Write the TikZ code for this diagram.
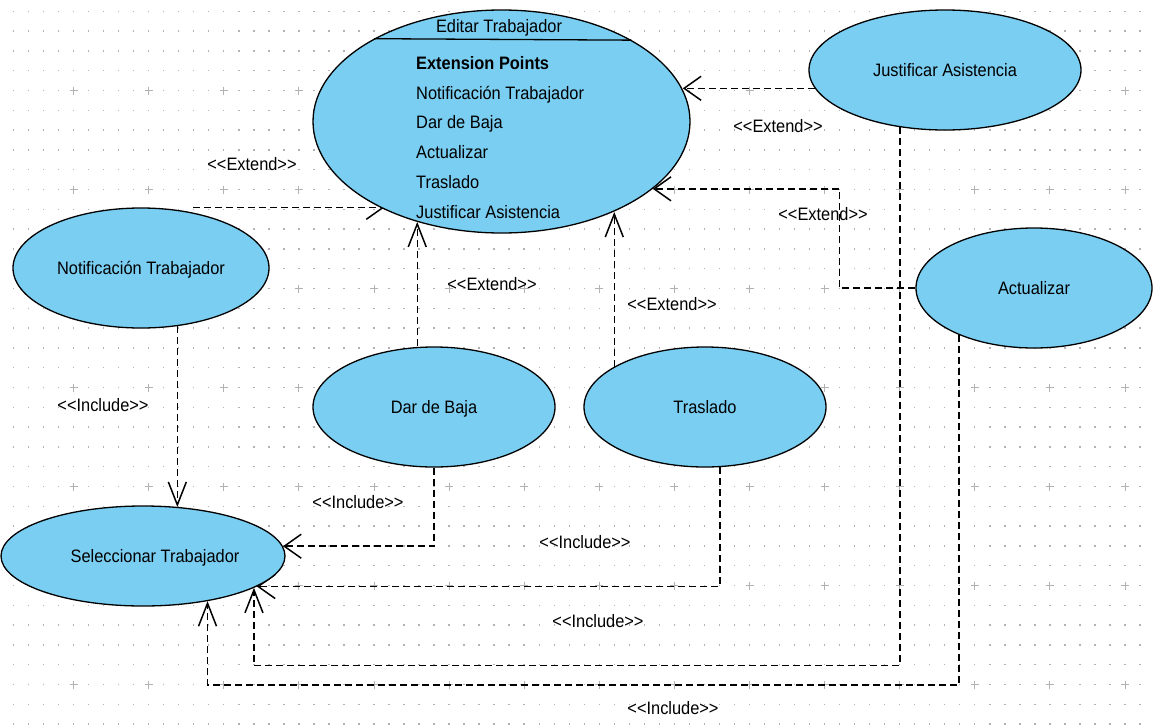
\documentclass[tikz,border=0pt]{standalone}
\usepackage{fontspec}
\newfontfamily\umlfont{Liberation Sans}[FakeStretch=0.91]
\usetikzlibrary{arrows.meta,backgrounds,shapes.geometric}
\definecolor{ucfill}{RGB}{122,206,242}
\definecolor{gridgray}{RGB}{178,178,178}

\begin{document}
\begin{tikzpicture}[x=1pt,y=-1pt,
  every node/.style={font=\umlfont\fontsize{18}{22}\selectfont,
    inner sep=0pt, text height=13pt, text depth=0pt},
  usecase/.style={ellipse, draw=black, line width=1.3pt, fill=ucfill},
  rel/.style={line width=1.5pt, dash pattern=on 7pt off 4pt},
  tiph/.style={-{Straight Barb[length=17pt,width=24pt]}},
  tipv/.style={-{Straight Barb[length=23pt,width=18pt]}},
]
\useasboundingbox (0,0) rectangle (1154,726);

% use cases
\node[usecase, minimum width=377pt, minimum height=223pt] (edit) at (501.5,121.5) {};
\node (editT) at (499,26) {Editar Trabajador};
\draw[line width=1.3pt] (edit.147.2) -- (edit.32.8);
\node[anchor=west] (xp0) at (416,63) {\bfseries Extension Points};
\node[anchor=west] (xp1) at (416,92.5) {Notificación Trabajador};
\node[anchor=west] (xp2) at (416,122) {Dar de Baja};
\node[anchor=west] (xp3) at (416,152) {Actualizar};
\node[anchor=west] (xp4) at (416,182) {Traslado};
\node[anchor=west] (xp5) at (416,212) {Justificar Asistencia};

\node[usecase, minimum width=272pt, minimum height=120pt] (just) at (945,70) {Justificar Asistencia};
\node[usecase, minimum width=256pt, minimum height=120pt] (notif) at (141,268) {Notificación Trabajador};
\node[usecase, minimum width=236pt, minimum height=120pt] (act) at (1034,288) {Actualizar};
\node[usecase, minimum width=242pt, minimum height=120pt] (baja) at (434,407) {Dar de Baja};
\node[usecase, minimum width=242pt, minimum height=120pt] (tras) at (705,407) {Traslado};
\node[usecase, minimum width=284pt, minimum height=100pt] (sel) at (143,556) {};
\node (selT) at (155,556) {Seleccionar Trabajador};

\begin{scope}[on background layer]
  % white sheet with a dotted grid and crosses
  \fill[white] (0,0) rectangle (1154,726);
  \foreach \i in {0,...,75}
    \foreach \j in {0,...,36}
      \fill[gridgray] ({13.5+15.02*\i-0.7},{11.3+19.8*\j-0.7}) rectangle ++(1.4,1.4);
  \foreach \i in {0,...,14}
    \foreach \j in {0,...,6}
      \draw[gridgray, line width=0.9pt]
        ({73.6+75.1*\i-4},{90.5+99*\j}) -- ++(8,0)
        ({73.6+75.1*\i},{90.5+99*\j-4}) -- ++(0,8);

  % extend relations
  \draw[rel,tiph] ([xshift=52pt]notif.north) -- (edit.217 |- notif.north);
  \draw[rel,tiph] (just.188) -- (edit.10.5 |- just.188);
  \draw[rel,tiph] (act.west) -- ++(-76,0) |- (edit.336.3);
  \draw[rel,tipv] (edit.230.5 |- baja.north) -- (edit.230.5);
  \draw[rel,tipv] (tras.156.5) -- (tras.156.5 |- edit.321.5);

  % include relations
  \draw[rel,tipv] (notif.302.8) -- (notif.302.8 |- sel.54.2);
  \draw[rel,tiph] (baja.south) |- (sel.4.1);
  \draw[rel,tiph] (tras.284.2) |- (sel.345.2);
  \draw[rel,tipv] (just.232.9) -- ++(0,538) -| (sel.344.3);
  \draw[rel,tipv] (act.212.8) -- ++(0,350) -| (sel.325.6);
\end{scope}

% stereotype labels
\node (ext1) at (252,164) {<<Extend>>};
\node (ext2) at (778,126) {<<Extend>>};
\node (ext3) at (823,214) {<<Extend>>};
\node (ext4) at (492,284) {<<Extend>>};
\node (ext5) at (672,304) {<<Extend>>};
\node (inc1) at (103,405) {<<Include>>};
\node (inc2) at (358,502) {<<Include>>};
\node (inc3) at (585,542) {<<Include>>};
\node (inc4) at (598,621) {<<Include>>};
\node (inc5) at (673,708) {<<Include>>};
\end{tikzpicture}
\end{document}
